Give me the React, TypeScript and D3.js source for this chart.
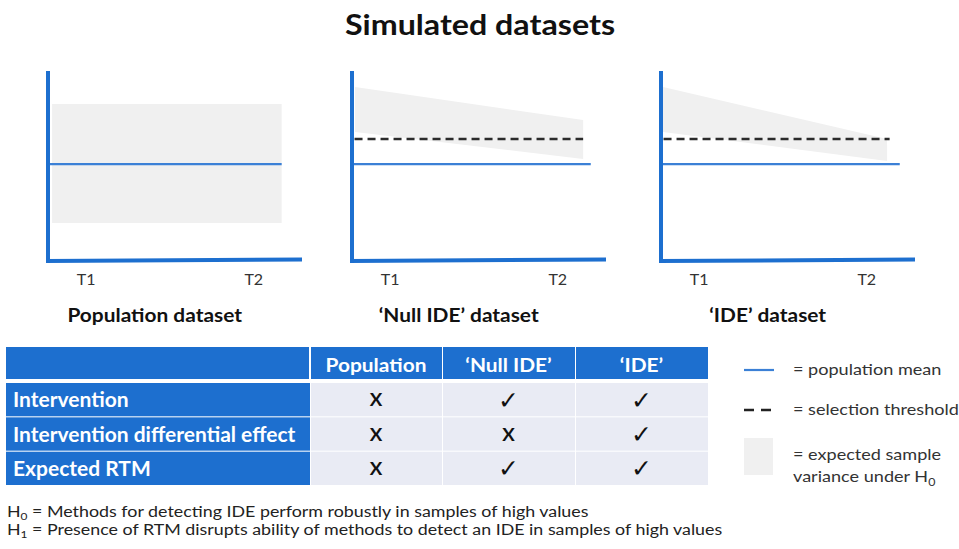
import * as d3 from "d3";
import type { ReactNode } from "react";

// panel data (values on a 0-100 scale, x in % of axis length)
const panelNames = ["Population dataset", "\u2018Null IDE\u2019 dataset", "\u2018IDE\u2019 dataset"];
const panelLeft = [48, 352, 661];
const meanValue = [51, 51, 51];
const meanEnd = [92, 94, 94];
const bandStart = [1.6, 1.2, 0.8];
const bandEnd = [92, 91, 89];
const bandTopT1 = [82.6, 91.6, 91.6];
const bandTopT2 = [82.6, 74.2, 64.2];
const bandBottomT1 = [20, 67.9, 67.9];
const bandBottomT2 = [20, 53.7, 52.6];
const thresholdValue = [null, 64.2, 64.2];
const thresholdEnd = [null, 91, 90];
const timeLabels = ["T1", "T2"];
const timePos = [15, 81];

// table data
const columnHeads = ["", "Population", "\u2018Null IDE\u2019", "\u2018IDE\u2019"];
const rowLabels = ["Intervention", "Intervention differential effect", "Expected RTM"];
const populationMarks = ["X", "X", "X"];
const nullIdeMarks = ["\u2713", "X", "\u2713"];
const ideMarks = ["\u2713", "\u2713", "\u2713"];

const legendLabels = ["= population mean", "= selection threshold", "= expected sample"];

const BLUE = "#1d6fcf";
const LINE_BLUE = "#3b80d6";
const FONT = "Lato, 'Open Sans', sans-serif";

// text stretched a little sideways, like the original slide
function T({
  x,
  y,
  size,
  sx = 1,
  anchor = "start",
  bold = false,
  fill = "#222",
  family = FONT,
  children,
}: {
  x: number;
  y: number;
  size: number;
  sx?: number;
  anchor?: string;
  bold?: boolean;
  fill?: string;
  family?: string;
  children: ReactNode;
}) {
  return (
    <text
      transform={`translate(${x},${y}) scale(${sx},1)`}
      textAnchor={anchor}
      fontSize={size}
      fontWeight={bold ? "bold" : "normal"}
      fill={fill}
      fontFamily={family}
    >
      {children}
    </text>
  );
}

function Panel({ i }: { i: number }) {
  const x0 = panelLeft[i];
  const x = d3.scaleLinear().domain([0, 100]).range([x0, x0 + 254]);
  const y = d3.scaleLinear().domain([0, 100]).range([261, 71]);
  const t = d3.scaleLinear().domain([bandStart[i], bandEnd[i]]).range([0, 1]);
  const band = d3
    .area<number>()
    .x((d) => x(d))
    .y0((d) => y(d3.interpolateNumber(bandBottomT1[i], bandBottomT2[i])(t(d))))
    .y1((d) => y(d3.interpolateNumber(bandTopT1[i], bandTopT2[i])(t(d))));
  const thr = thresholdValue[i];
  return (
    <g>
      <path d={band([bandStart[i], bandEnd[i]]) || ""} fill="#f0f0f0" />
      {thr !== null && (
        <line
          x1={x(1)}
          x2={x(thresholdEnd[i] as number)}
          y1={y(thr)}
          y2={y(thr)}
          stroke="#2b2b2b"
          strokeWidth={2.5}
          strokeDasharray="8,5"
        />
      )}
      <line x1={x(0)} x2={x(meanEnd[i])} y1={y(meanValue[i])} y2={y(meanValue[i])} stroke={LINE_BLUE} strokeWidth={2.2} />
      <line x1={x(0)} x2={x(0)} y1={y(0) + 2} y2={y(100)} stroke={BLUE} strokeWidth={4} />
      <line x1={x(0) - 2} x2={x(100)} y1={y(0)} y2={y(0) - 1.5} stroke={BLUE} strokeWidth={4} />
      {timeLabels.map((lab, k) => (
        <T key={lab} x={x(timePos[k])} y={285} size={16} anchor="middle" fill="#333">
          {lab}
        </T>
      ))}
      <T x={x(42)} y={322} size={18} sx={1.16} anchor="middle" bold fill="#111">
        {panelNames[i]}
      </T>
    </g>
  );
}

export default function App() {
  const colX = [6, 310, 442, 575, 708];
  const headTop = 347;
  const headBottom = 379;
  const rowY = d3.scaleBand<number>().domain([0, 1, 2]).range([383, 485]).paddingInner(0.03);
  const marks = [populationMarks, nullIdeMarks, ideMarks];

  return (
    <svg width={959} height={549} style={{ position: "absolute", left: 0, top: 0, background: "#fff" }}>
      <T x={480} y={35} size={28} sx={1.15} anchor="middle" bold fill="#111">
        Simulated datasets
      </T>
      {panelNames.map((_, i) => (
        <Panel key={i} i={i} />
      ))}

      {/* table header */}
      {columnHeads.map((h, c) => (
        <g key={"h" + c}>
          <rect x={colX[c] + (c ? 1 : 0)} y={headTop} width={colX[c + 1] - colX[c] - 1} height={headBottom - headTop} fill={BLUE} />
          <T x={(colX[c] + colX[c + 1]) / 2} y={372} size={18} sx={1.16} anchor="middle" bold fill="#fff">
            {h}
          </T>
        </g>
      ))}
      {/* table rows */}
      {rowLabels.map((r, k) => {
        const top = rowY(k) as number;
        const h = rowY.bandwidth();
        return (
          <g key={r}>
            <rect x={colX[0]} y={top} width={colX[1] - colX[0]} height={h} fill={BLUE} />
            <T x={13} y={top + h / 2 + 7.5} size={20} sx={1.05} bold fill="#fff">
              {r}
            </T>
            {marks.map((m, c) => (
              <g key={c}>
                <rect x={colX[c + 1] + 1} y={top} width={colX[c + 2] - colX[c + 1] - 1} height={h} fill="#e9ebf4" />
                {m[k] === "X" ? (
                  <T x={(colX[c + 1] + colX[c + 2]) / 2} y={top + h / 2 + 6.5} size={17} sx={1.1} anchor="middle" bold fill="#111">
                    X
                  </T>
                ) : (
                  <T
                    x={(colX[c + 1] + colX[c + 2]) / 2}
                    y={top + h / 2 + 9}
                    size={25}
                    anchor="middle"
                    bold
                    fill="#111"
                    family="'DejaVu Sans', sans-serif"
                  >
                    {m[k]}
                  </T>
                )}
              </g>
            ))}
          </g>
        );
      })}

      {/* legend */}
      <line x1={744} x2={774} y1={370} y2={370} stroke={LINE_BLUE} strokeWidth={2.2} />
      <line x1={744} x2={773} y1={410} y2={410} stroke="#222" strokeWidth={2.5} strokeDasharray="10,7" />
      <rect x={744} y={438} width={29} height={37} fill="#f0f0f0" />
      {legendLabels.map((l, k) => (
        <T key={l} x={793} y={[375, 415, 460][k]} size={16} sx={1.13} fill="#333">
          {l}
        </T>
      ))}
      <T x={793} y={482} size={16} sx={1.13} fill="#333">
        variance under H<tspan fontSize={11} dy={4}>0</tspan>
      </T>

      {/* hypotheses */}
      <T x={7} y={517} size={15} sx={1.19}>
        H<tspan fontSize={10} dy={3}>0</tspan>
        <tspan dy={-3}> = Methods for detecting IDE perform robustly in samples of high values</tspan>
      </T>
      <T x={7} y={535} size={15} sx={1.19}>
        H<tspan fontSize={10} dy={3}>1</tspan>
        <tspan dy={-3}> = Presence of RTM disrupts ability of methods to detect an IDE in samples of high values</tspan>
      </T>
    </svg>
  );
}
